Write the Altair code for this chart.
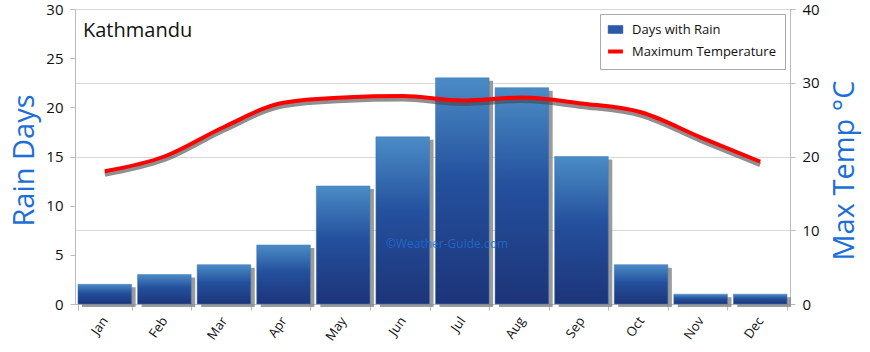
import altair as alt
import pandas as pd

months = ["Jan", "Feb", "Mar", "Apr", "May", "Jun", "Jul", "Aug", "Sep", "Oct", "Nov", "Dec"]
rain_days = [2, 3, 4, 6, 12, 17, 23, 22, 15, 4, 1, 1]
max_temp = [18, 20, 24, 27.3, 28, 28.2, 27.6, 28, 27.2, 26, 22.6, 19.3]
series_names = ["Days with Rain", "Maximum Temperature"]

df = pd.DataFrame({"month": months, "rain": rain_days, "temp": max_temp,
                   "series": series_names[1]})

FONT = "Open Sans"
BLUE_TITLE = "#1c6fd8"

x_enc = alt.X("month:N", sort=months, title=None,
              scale=alt.Scale(paddingInner=0.1, paddingOuter=0.05),
              axis=alt.Axis(labelAngle=305, labelAlign="right", labelBaseline="middle",
                            labelPadding=8, tickBand="extent", tickSize=6,
                            domainColor="#bbbbbb", tickColor="#bbbbbb",
                            labelFontSize=13, labelColor="#111", labelFont=FONT))

y_rain = alt.Y("rain:Q", scale=alt.Scale(domain=[0, 30]),
               axis=alt.Axis(title="Rain Days", values=[0, 5, 10, 15, 20, 25, 30], grid=False,
                             tickSize=5, labelPadding=7, domainColor="#bbbbbb", tickColor="#bbbbbb",
                             labelFontSize=15, labelColor="#111", labelFont=FONT,
                             titleFontSize=29, titleColor=BLUE_TITLE, titleFont=FONT,
                             titleFontWeight="normal", titleX=-42, titleY=151, titleAngle=270,
                             titleBaseline="alphabetic", titleAlign="center"))

gradient = alt.Gradient(
    gradient="linear",
    stops=[alt.GradientStop(color="#1d3479", offset=0),
           alt.GradientStop(color="#24509d", offset=0.55),
           alt.GradientStop(color="#4b8cc6", offset=1)],
    x1=0, x2=0, y1=1, y2=0,
)

bar_shadow = alt.Chart(df).mark_bar(color="#8a8a8a", xOffset=4, yOffset=3, opacity=0.85).encode(
    x=x_enc, y=y_rain)
bars = alt.Chart(df).mark_bar(fill=gradient, stroke="#3d78b8", strokeWidth=0.5).encode(
    x=x_enc, y=y_rain)

title_txt = alt.Chart(pd.DataFrame({"t": ["Kathmandu"]})).mark_text(
    align="left", baseline="middle", fontSize=20, font=FONT, color="#111").encode(
    x=alt.value(8), y=alt.value(22), text="t:N")

wm = alt.Chart(pd.DataFrame({"t": ["©Weather-Guide.com"]})).mark_text(
    align="center", baseline="middle", fontSize=12, font=FONT, color="#1f6fd6", opacity=0.8).encode(
    x=alt.value(372), y=alt.value(235), text="t:N")

left = alt.layer(bar_shadow, bars, title_txt, wm)

y_temp = alt.Y("temp:Q", scale=alt.Scale(domain=[0, 40]),
               axis=alt.Axis(orient="right", title="Max Temp °C", values=[0, 10, 20, 30, 40],
                             grid=True, gridColor="#d8d8d8", tickSize=5, labelPadding=7,
                             domainColor="#bbbbbb", tickColor="#bbbbbb",
                             labelFontSize=15, labelColor="#111", labelFont=FONT,
                             titleFontSize=29, titleColor=BLUE_TITLE, titleFont=FONT,
                             titleFontWeight="normal", titleX=63, titleY=161, titleAngle=270,
                             titleBaseline="alphabetic", titleAlign="center"))

line_shadow = alt.Chart(df).mark_line(interpolate="monotone", color="#444", strokeWidth=5,
                                      opacity=0.6, yOffset=3).encode(x=x_enc, y=y_temp)

IS_RAIN = "datum.value === 'Days with Rain'"
legend = alt.Legend(
    title=None, orient="top-right", offset=5, direction="vertical",
    labelFontSize=13, labelFont=FONT, labelColor="#111", labelOffset=10,
    symbolSize=220, symbolOpacity=1, rowPadding=6,
    padding=9, strokeColor="#aaaaaa", fillColor="white",
    symbolType=alt.ExprRef(expr=f"{IS_RAIN} ? 'M-1,-0.55H1V0.55H-1Z' : 'M-1,0H1'"),
    symbolFillColor=alt.ExprRef(expr=f"{IS_RAIN} ? '#2a5aa6' : 'transparent'"),
    symbolStrokeColor=alt.ExprRef(expr=f"{IS_RAIN} ? '#2a5aa6' : '#ff0000'"),
    symbolStrokeWidth=alt.ExprRef(expr=f"{IS_RAIN} ? 0.5 : 4"),
)

line = alt.Chart(df).mark_line(interpolate="monotone", strokeWidth=4).encode(
    x=x_enc, y=y_temp,
    color=alt.Color("series:N", scale=alt.Scale(domain=series_names, range=["#2a5aa6", "#ff0000"]),
                    legend=legend))

right = alt.layer(line_shadow, line)

chart = alt.layer(left, right).resolve_scale(y="independent").properties(
    width=715, height=295,
    autosize=alt.AutoSizeParams(type="none"),
    padding={"left": 75, "top": 9, "right": 80, "bottom": 48},
    background="white",
).configure_view(stroke="#c8c8c8")

chart.save("out.html", embed_options={"renderer": "svg", "actions": False})
